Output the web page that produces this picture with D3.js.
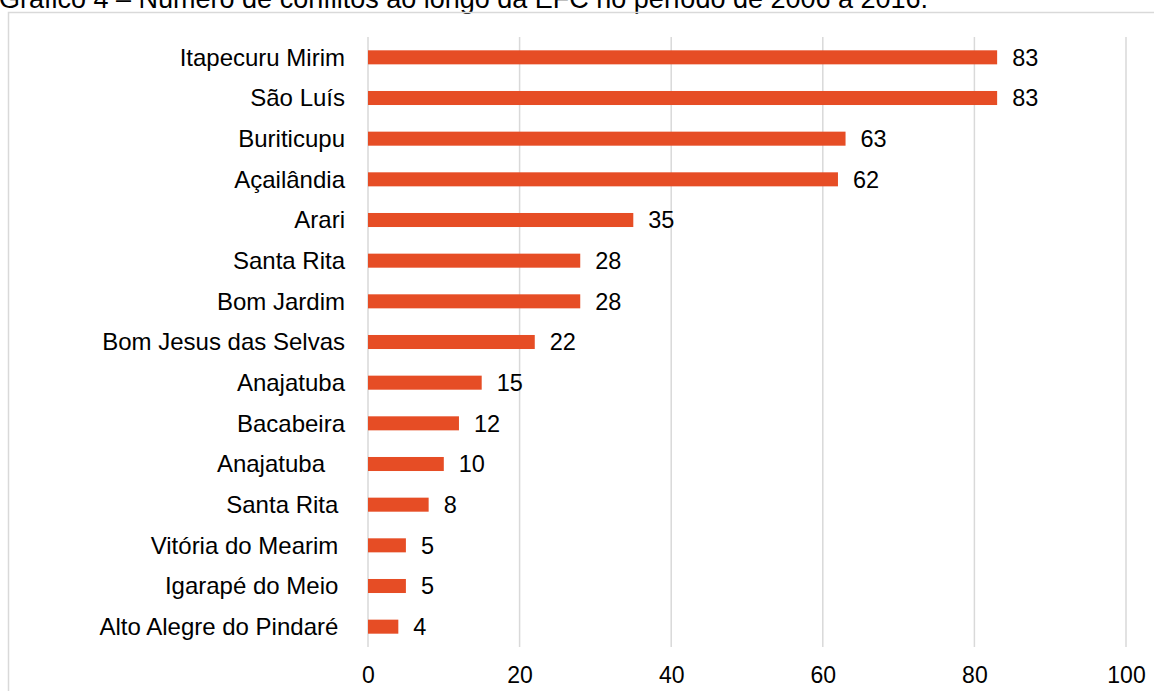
<!DOCTYPE html>
<html>
<head>
<meta charset="utf-8">
<script src="https://cdn.jsdelivr.net/npm/d3@7"></script>
<style>
  html, body { margin: 0; padding: 0; background: #fff; }
  svg { display: block; font-family: "Liberation Sans", Arial, sans-serif; }
  text { white-space: pre; }
</style>
</head>
<body>
<svg id="chart" width="1154" height="691"></svg>
<script>
// Conflict counts per municipality along the EFC (2006–2016)
const categories = [
  "Itapecuru Mirim", "São Luís", "Buriticupu", "Açailândia", "Arari",
  "Santa Rita", "Bom Jardim", "Bom Jesus das Selvas", "Anajatuba", "Bacabeira",
  "Anajatuba   ", "Santa Rita ", "Vitória do Mearim ", "Igarapé do Meio ", "Alto Alegre do Pindaré "
];
const values = [83, 83, 63, 62, 35, 28, 28, 22, 15, 12, 10, 8, 5, 5, 4];
const xTicks = [0, 20, 40, 60, 80, 100];
const title = "Gráfico 4 – Número de conflitos ao longo da EFC no período de 2006 a 2016.";

const svg = d3.select("#chart");
const W = 1154, H = 691;

// Title strip along the top edge
svg.append("text")
  .attr("x", -1).attr("y", 8)
  .attr("font-size", 27)
  .attr("fill", "#000")
  .text(title);

// Chart frame
svg.append("rect")
  .attr("x", 8.5).attr("y", 12.5)
  .attr("width", W + 10).attr("height", H + 10)
  .attr("fill", "none")
  .attr("stroke", "#d9d9d9")
  .attr("stroke-width", 1.5);

const plot = { left: 368, right: 1126, top: 37, bottom: 647 };

const x = d3.scaleLinear().domain([0, 100]).range([plot.left, plot.right]);
const y = d3.scaleBand()
  .domain(d3.range(categories.length))
  .range([plot.top, plot.bottom])
  .paddingInner(0.655).paddingOuter(0.3275);

// Vertical gridlines
svg.append("g")
  .selectAll("line")
  .data(xTicks)
  .join("line")
  .attr("x1", d => x(d)).attr("x2", d => x(d))
  .attr("y1", plot.top).attr("y2", plot.bottom)
  .attr("stroke", "#d9d9d9")
  .attr("stroke-width", 1.5);

// X axis tick labels
const xAxis = d3.axisBottom(x).tickValues(xTicks).tickSize(0).tickPadding(0);
const gx = svg.append("g")
  .attr("transform", `translate(0,${plot.bottom + 20})`)
  .call(xAxis);
gx.select(".domain").remove();
gx.selectAll("text")
  .attr("font-family", "Liberation Sans, Arial, sans-serif")
  .attr("font-size", 23)
  .attr("fill", "#000")
  .attr("dy", "0.71em");

// Bars
svg.append("g")
  .selectAll("rect")
  .data(values)
  .join("rect")
  .attr("x", x(0))
  .attr("y", (d, i) => y(i))
  .attr("width", d => x(d) - x(0))
  .attr("height", y.bandwidth())
  .attr("fill", "#E64D25");

// Category labels
svg.append("g")
  .selectAll("text")
  .data(categories)
  .join("text")
  .attr("x", 345)
  .attr("y", (d, i) => y(i) + y.bandwidth() / 2)
  .attr("dy", "0.35em")
  .attr("text-anchor", "end")
  .attr("font-size", 24)
  .attr("fill", "#000")
  .text(d => d);

// Value labels
svg.append("g")
  .selectAll("text")
  .data(values)
  .join("text")
  .attr("x", d => x(d) + 15)
  .attr("y", (d, i) => y(i) + y.bandwidth() / 2)
  .attr("dy", "0.35em")
  .attr("font-size", 23.5)
  .attr("fill", "#000")
  .text(d => d);
</script>
</body>
</html>
